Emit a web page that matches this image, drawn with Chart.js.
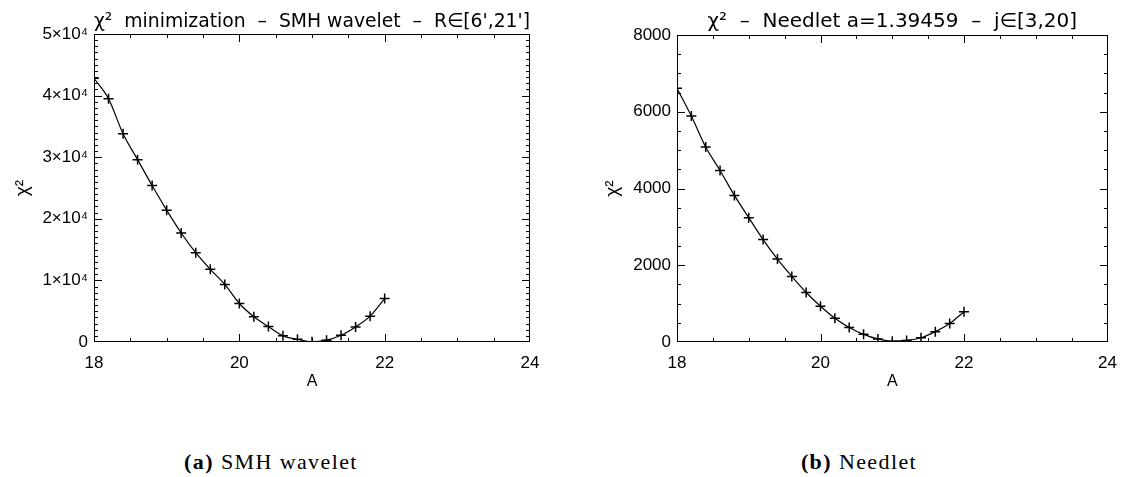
<!DOCTYPE html>
<html>
<head>
<meta charset="utf-8">
<script src="https://cdn.jsdelivr.net/npm/chart.js@4.4.1/dist/chart.umd.min.js"></script>
<style>
  html, body { margin: 0; padding: 0; background: #fff; }
  #page { position: relative; width: 1128px; height: 477px; background: #fff; overflow: hidden; }
  .panel { position: absolute; top: 0; width: 564px; height: 400px; }
  .caption { position: absolute; top: 449px; font-family: "Liberation Serif", "DejaVu Serif", serif; font-size: 22px; letter-spacing: 1.4px; line-height: 26px; color: #000; white-space: nowrap; transform: translateX(-50%); }
  .caption b { font-weight: bold; }
</style>
</head>
<body>
<div id="page">
  <div class="panel" style="left:0"><canvas id="smh"></canvas></div>
  <div class="panel" style="left:564px"><canvas id="need"></canvas></div>
  <div class="caption" style="left:271px"><b>(a)</b> SMH wavelet</div>
  <div class="caption" style="left:859px"><b>(b)</b> Needlet</div>
</div>
<script>
// Amplitude A sampled in steps of 0.2
const amplitude = [18.0, 18.2, 18.4, 18.6, 18.8, 19.0, 19.2, 19.4, 19.6, 19.8, 20.0,
                   20.2, 20.4, 20.6, 20.8, 21.0, 21.2, 21.4, 21.6, 21.8, 22.0];

// chi-square values, SMH wavelet (R in [6', 21'])
const chi2Smh = [42800, 39500, 33800, 29600, 25400, 21400, 17700, 14500, 11800, 9350, 6250,
                 4100, 2500, 1000, 450, 50, 300, 1100, 2450, 4200, 7050];

// chi-square values, needlet (a = 1.39459, j in [3, 20])
const chi2Needlet = [6610, 5890, 5080, 4470, 3820, 3240, 2670, 2160, 1710, 1290, 930,
                     620, 380, 200, 80, 20, 40, 110, 270, 480, 790];

// Axis ranges and tick steps
const xRange = [18, 24];
const xMajorStep = 2;
const xMinorStep = 0.5;
const smhYRange = [0, 50000];
const smhYMajorStep = 10000;
const smhYMinorStep = 1000;
const needYRange = [0, 8000];
const needYMajorStep = 2000;
const needYMinorStep = 500;

const SANS = '"Liberation Sans", "DejaVu Sans", sans-serif';
const TITLE_FONT = '"DejaVu Sans", "Liberation Sans", sans-serif';

// Closed frame with inward major/minor ticks on all four sides
function frameTicks(steps) {
  return {
    id: 'frameTicks',
    afterDraw(chart) {
      const ctx = chart.ctx;
      const a = chart.chartArea;
      const xs = chart.scales.x;
      const ys = chart.scales.y;
      const L = Math.round(a.left), R = Math.round(a.right);
      const T = Math.round(a.top), B = Math.round(a.bottom);
      ctx.save();
      ctx.fillStyle = '#000';
      // frame
      ctx.fillRect(L, T, R - L, 1);
      ctx.fillRect(R - 1, T, 1, B - T);
      ctx.fillRect(L, B - 1, R - L, 1);
      ctx.fillRect(L, T, 1, B - T);
      const nx = Math.round((xs.max - xs.min) / steps.xMinor);
      for (let i = 0; i <= nx; i++) {
        const v = xs.min + i * steps.xMinor;
        const major = Math.abs(v / steps.xMajor - Math.round(v / steps.xMajor)) < 1e-6;
        const len = major ? 8 : 4;
        const px = Math.min(R - 1, Math.round(xs.getPixelForValue(v)));
        ctx.fillRect(px, B - len, 1, len);
        ctx.fillRect(px, T, 1, len);
      }
      const ny = Math.round((ys.max - ys.min) / steps.yMinor);
      for (let i = 0; i <= ny; i++) {
        const v = ys.min + i * steps.yMinor;
        const major = Math.abs(v / steps.yMajor - Math.round(v / steps.yMajor)) < 1e-6;
        const len = major ? 8 : 4;
        const py = Math.min(B - 1, Math.round(ys.getPixelForValue(v)));
        ctx.fillRect(L, py, len, 1);
        ctx.fillRect(R - len, py, len, 1);
      }
      ctx.restore();
    }
  };
}

function makeChart(id, values, yRange, yMajor, yMinor, title, yTickFmt, geom) {
  return new Chart(document.getElementById(id), {
    type: 'line',
    data: {
      labels: amplitude,
      datasets: [{
        data: amplitude.map((a, i) => ({ x: a, y: values[i] })),
        borderColor: '#000',
        borderWidth: 1.2,
        backgroundColor: '#000',
        pointStyle: 'cross',
        pointRadius: 5,
        pointBorderWidth: 1.5,
        pointBorderColor: '#000',
        cubicInterpolationMode: 'monotone',
        fill: false
      }]
    },
    options: {
      responsive: false,
      animation: false,
      devicePixelRatio: 1,
      layout: { padding: { left: 0, right: geom.padRight, top: 0, bottom: 0 } },
      plugins: {
        legend: { display: false },
        tooltip: { enabled: false },
        title: {
          display: true,
          fullSize: false,
          text: title,
          color: '#000',
          font: { family: TITLE_FONT, size: 20, weight: 'normal', lineHeight: '24px' },
          padding: { top: 10, bottom: geom.titleBottom }
        }
      },
      scales: {
        x: {
          type: 'linear',
          min: xRange[0], max: xRange[1],
          afterFit: s => { s.height = 58; },
          afterBuildTicks: s => {
            const t = [];
            for (let v = xRange[0]; v <= xRange[1]; v += xMajorStep) t.push({ value: v });
            s.ticks = t;
          },
          grid: { display: false, drawTicks: false },
          border: { display: false },
          ticks: { color: '#000', padding: 11, font: { family: SANS, size: 17 }, maxRotation: 0 },
          title: {
            display: true, text: 'A', color: '#000',
            font: { family: SANS, size: 16, lineHeight: '20px' },
            padding: { top: 0, bottom: 8 }
          }
        },
        y: {
          type: 'linear',
          min: yRange[0], max: yRange[1],
          afterFit: s => { s.width = geom.yWidth; },
          afterBuildTicks: s => {
            const t = [];
            for (let v = yRange[0]; v <= yRange[1]; v += yMajor) t.push({ value: v });
            s.ticks = t;
          },
          grid: { display: false, drawTicks: false },
          border: { display: false },
          ticks: { color: '#000', padding: 6, font: { family: SANS, size: 17 }, callback: yTickFmt },
          title: {
            display: true, text: 'χ²', color: '#000',
            font: { family: SANS, size: 19, lineHeight: '22px' },
            padding: { top: geom.yTitleOffset, bottom: 0 }
          }
        }
      }
    },
    plugins: [frameTicks({ xMajor: xMajorStep, xMinor: xMinorStep, yMajor: yMajor, yMinor: yMinor })]
  });
}

function setSize(id, w, h) {
  const c = document.getElementById(id);
  c.width = w; c.height = h;
  c.style.width = w + 'px'; c.style.height = h + 'px';
}
setSize('smh', 564, 400);
setSize('need', 564, 400);

makeChart('smh', chi2Smh, smhYRange, smhYMajorStep, smhYMinorStep,
  "χ²  minimization  –  SMH wavelet  –  R∈[6',21']",
  v => v === 0 ? '0' : (v / 10000) + '×10⁴',
  { padRight: 34, titleBottom: 0, yWidth: 94, yTitleOffset: 12 });

makeChart('need', chi2Needlet, needYRange, needYMajorStep, needYMinorStep,
  'χ²  –  Needlet a=1.39459  –  j∈[3,20]',
  v => String(v),
  { padRight: 15, titleBottom: 1, yWidth: 113, yTitleOffset: 38 });
</script>
</body>
</html>
